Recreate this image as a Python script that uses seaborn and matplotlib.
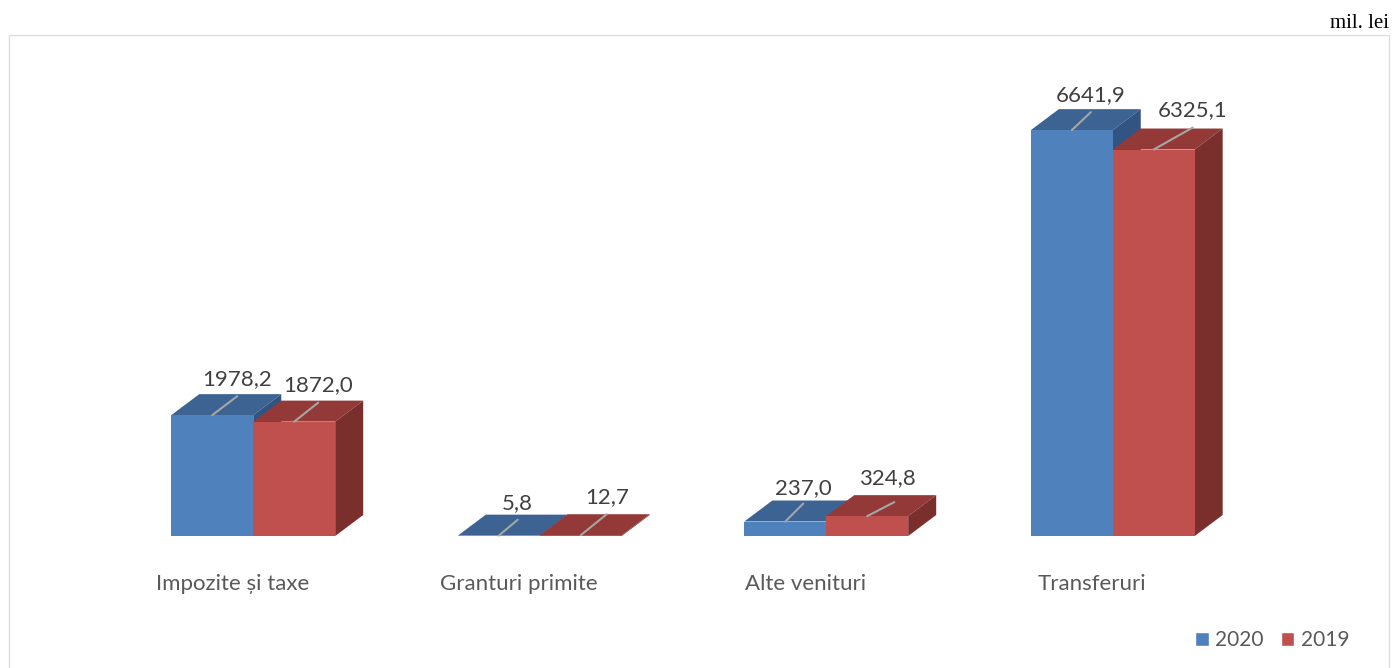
import matplotlib
matplotlib.use("Agg")
import matplotlib.pyplot as plt
from matplotlib.patches import Polygon, Rectangle
from matplotlib.transforms import ScaledTranslation
import pandas as pd
import seaborn as sns

categories = ["Impozite și taxe", "Granturi primite", "Alte venituri", "Transferuri"]
values_2020 = [1978.2, 5.8, 237.0, 6641.9]
values_2019 = [1872.0, 12.7, 324.8, 6325.1]
labels_2020 = ["1978,2", "5,8", "237,0", "6641,9"]
labels_2019 = ["1872,0", "12,7", "324,8", "6325,1"]

W, H = 1392, 668
# offsets of the data labels from the top middle of each bar, in pixels
offsets_2020 = [(25, 19), (19, 16), (18, 18), (19, 18)]
offsets_2019 = [(24, 19), (26, 21), (27, 14), (39, 22)]
text_shift_2020 = [(0, 17), (0, 17), (0, 15), (0, 17)]
text_shift_2019 = [(0, 18), (0, 17), (-7, 24), (0, 17)]

sns.set_theme(style="white")
plt.rcParams["font.family"] = ["Lato", "DejaVu Sans"]

df = pd.DataFrame({
    "categorie": categories * 2,
    "an": ["2020"] * 4 + ["2019"] * 4,
    "valoare": values_2020 + values_2019,
})
colors = {"2020": "#4F81BD", "2019": "#C0504D"}
tops = {"2020": "#3C6392", "2019": "#933A38"}
sides = {"2020": "#325482", "2019": "#7B2F2D"}

fig = plt.figure(figsize=(W / 100, H / 100), dpi=100, facecolor="white")
left, right, bottom, top = 110, 1256, 536, 36
ax = fig.add_axes([left / W, (H - bottom) / H, (right - left) / W, (bottom - top) / H])
ax.patch.set_alpha(0)

sns.barplot(data=df, x="categorie", y="valoare", hue="an", hue_order=["2020", "2019"],
            palette=colors, width=0.572, gap=0, saturation=1, zorder=3, linewidth=0,
            ax=ax, legend=False)
ax.set_xlim(-0.5, 3.5)
ax.set_ylim(0, 8183)
ax.set_xlabel("")
ax.set_ylabel("")
ax.set_yticks([])
sns.despine(ax=ax, left=True, bottom=True)

# frame round the whole chart, runs off the bottom of the picture
fig.add_artist(Rectangle((9 / W, -3 / H), 1380 / W, (H - 35 + 3) / H, transform=fig.transFigure,
                         fill=False, edgecolor="#DEDEDE", linewidth=1.0))

ax.tick_params(axis="x", length=0, pad=27, labelsize=16, labelcolor="#595959")
shift = ScaledTranslation(-21 / 100, 0, fig.dpi_scale_trans)
for lab in ax.get_xticklabels():
    lab.set_transform(lab.get_transform() + shift)

# fake 3d depth, worked out from the real bars
px_x = (right - left) / 4
px_y = (bottom - top) / 8183
dx = 28 / px_x
dy = 21 / px_y

bars = ax.patches
years = ["2020"] * 4 + ["2019"] * 4
texts = labels_2020 + labels_2019
offs = offsets_2020 + offsets_2019
shifts = text_shift_2020 + text_shift_2019
for bar, year, txt, off, sh in zip(bars, years, texts, offs, shifts):
    x0 = bar.get_x()
    x1 = x0 + bar.get_width()
    h = bar.get_height()
    z = 1 if year == "2020" else 2
    ax.add_patch(Polygon([(x0, h), (x1, h), (x1 + dx, h + dy), (x0 + dx, h + dy)],
                         facecolor=tops[year], edgecolor="none", zorder=z, clip_on=False))
    ax.add_patch(Polygon([(x1, 0), (x1, h), (x1 + dx, h + dy), (x1 + dx, dy)],
                         facecolor=sides[year], edgecolor="none", zorder=z, clip_on=False))
    xm = (x0 + x1) / 2
    ax.annotate("", xy=(xm, h), xytext=off, textcoords="offset pixels",
                arrowprops=dict(arrowstyle="-", color="#A6A6A6", lw=1.5, shrinkA=0, shrinkB=0),
                zorder=5, annotation_clip=False)
    ax.annotate(txt, xy=(xm, h), xytext=(off[0] + sh[0], off[1] + sh[1]), textcoords="offset pixels",
                ha="center", va="center", fontsize=16, color="#404040", zorder=6,
                annotation_clip=False)

# legend
handles = [Rectangle((0, 0), 1, 1, facecolor=colors[y]) for y in ["2020", "2019"]]
fig.legend(handles, ["2020", "2019"], loc="center right", bbox_to_anchor=(1349 / W, (H - 640) / H),
           ncol=2, frameon=False, fontsize=15, labelcolor="#595959", handlelength=0.67,
           handleheight=0.67, handletextpad=0.29, columnspacing=0.8, borderpad=0, borderaxespad=0)

fig.text(1389 / W, (H - 23) / H, "mil. lei", ha="right", va="center", fontsize=15,
         family="Liberation Serif", color="black")

fig.savefig("out.png", dpi=100)
